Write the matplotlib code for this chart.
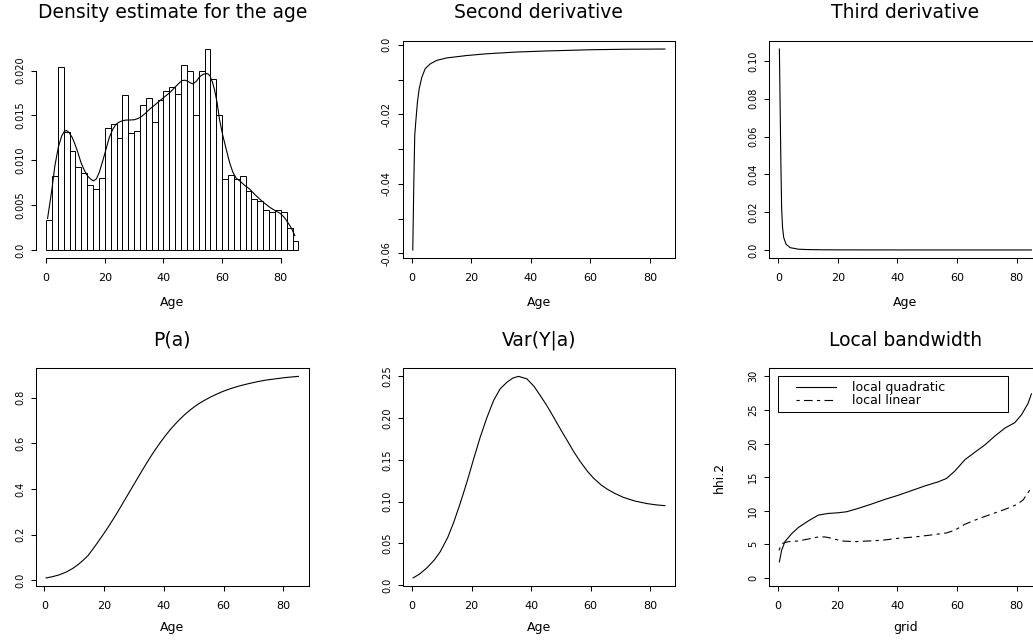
import numpy as np
import matplotlib
matplotlib.use("Agg")
import matplotlib.pyplot as plt
from matplotlib.lines import Line2D
from matplotlib.legend_handler import HandlerLine2D

# ---------------- data ----------------
# Histogram of age (density scale), bins of width 2 from 0 to 86
hist_left = list(range(0, 86, 2))
hist_density = [0.00333, 0.00826, 0.0204, 0.0131, 0.0110, 0.0092, 0.00856, 0.00722, 0.00681, 0.00807,
                0.0136, 0.0140, 0.01248, 0.01726, 0.01307, 0.01326, 0.01615, 0.01693, 0.01426, 0.01674,
                0.0177, 0.0182, 0.0174, 0.0206, 0.0200, 0.01504, 0.01996, 0.0224, 0.0191, 0.0151,
                0.00795, 0.0084, 0.0079, 0.0082, 0.0066, 0.00567, 0.0055, 0.0044, 0.0042, 0.00448,
                0.0042, 0.0025, 0.0010]
hist_width = 2

# Kernel density estimate
dens_age = [0.5, 2.0, 3.0, 4.2, 5.3, 6.2, 6.9, 7.8, 8.8, 9.6, 10.8, 11.9, 13.0, 14.1, 15.2, 16.1, 17.1,
            18.1, 19.2, 20.4, 21.5, 22.7, 23.8, 24.9, 26.0, 27.2, 28.7, 30.1, 31.3, 32.4, 33.8, 35.2,
            36.9, 38.6, 40.3, 42.1, 43.2, 44.3, 45.4, 46.4, 47.4, 48.3, 49.2, 50.0, 51.2, 52.3, 53.5,
            54.6, 55.3, 55.9, 56.7, 57.4, 58.3, 59.1, 60.2, 61.4, 62.5, 63.7, 64.8, 66.0, 67.7, 69.4,
            71.1, 72.8, 74.5, 76.3, 78.0, 79.7, 81.0, 82.0, 83.5, 84.8]
dens_val = [0.0035, 0.0068, 0.0094, 0.0115, 0.0127, 0.0132, 0.01333, 0.0131, 0.0126, 0.0120, 0.0109,
            0.00974, 0.0089, 0.00826, 0.0079, 0.0077, 0.0079, 0.00863, 0.0098, 0.0112, 0.0125, 0.01344,
            0.0140, 0.01426, 0.0144, 0.01448, 0.01449, 0.01452, 0.01465, 0.01485, 0.01522, 0.01567,
            0.01612, 0.01659, 0.01705, 0.01752, 0.01790, 0.01826, 0.01862, 0.01889, 0.01892, 0.01881,
            0.01862, 0.01852, 0.01880, 0.0193, 0.01958, 0.01967, 0.01960, 0.01937, 0.01870, 0.01789,
            0.0164, 0.01456, 0.0128, 0.01122, 0.0098, 0.00863, 0.0080, 0.0077, 0.0072, 0.00678,
            0.0062, 0.00567, 0.0052, 0.00474, 0.0044, 0.0041, 0.0037, 0.00326, 0.0025, 0.00159]

# Second derivative
d2_age = [0.34, 0.67, 1.0, 1.34, 1.9, 2.5, 3.4, 4.5, 6.2, 8.4, 11.7, 18.5, 25.2, 35.2, 45, 60, 72, 85]
d2_val = [-0.059, -0.0404, -0.026, -0.0222, -0.0165, -0.0126, -0.0093, -0.0069, -0.0055, -0.0045,
          -0.0038, -0.0031, -0.0026, -0.0021, -0.0018, -0.00144, -0.0013, -0.00124]

# Third derivative
d3_age = [0.34, 0.6, 0.85, 1.1, 1.4, 1.8, 2.6, 4.0, 6.8, 10, 15, 20, 30, 40, 50, 60, 70, 85]
d3_val = [0.1063, 0.075, 0.045, 0.022, 0.012, 0.0065, 0.003, 0.0012, 0.0004, 0.0002, 0.0001, 0.00005,
          0.00003, 0.00002, 0.00001, 0.00001, 0.0, 0.0]

# P(a)
p_age = [0.56, 2.8, 5.0, 7.3, 9.5, 11.2, 12.9, 14.6, 16.2, 17.9, 19.6, 21.3, 22.9, 24.6, 26.3, 27.7,
         29.1, 30.5, 31.9, 33.6, 35.2, 36.9, 38.6, 40.3, 42.0, 43.7, 45.3, 47.0, 48.7, 50.4, 52.0,
         53.7, 55.4, 57.6, 59.9, 62.7, 65.5, 68.3, 71.0, 73.8, 76.6, 80.8, 85.0]
p_val = [0.0102, 0.016, 0.024, 0.036, 0.052, 0.068, 0.087, 0.108, 0.136, 0.167, 0.199, 0.232, 0.265,
         0.301, 0.339, 0.370, 0.401, 0.432, 0.463, 0.500, 0.534, 0.568, 0.600, 0.630, 0.658, 0.683,
         0.705, 0.726, 0.745, 0.762, 0.776, 0.789, 0.801, 0.815, 0.828, 0.841, 0.852, 0.861, 0.869,
         0.876, 0.881, 0.888, 0.893]

# Var(Y|a)
v_age = [0.34, 2.5, 5.0, 7.5, 9.5, 12.0, 14.0, 16.2, 18.5, 20.7, 22.9, 25.1, 27.4, 29.6, 31.9, 33.9,
         35.8, 38.6, 41.0, 43.1, 45.3, 47.6, 50.0, 52.0, 54.3, 56.5, 59.0, 61.0, 63.5, 65.5, 68.0,
         71.0, 75.0, 79.0, 82.0, 85.0]
v_val = [0.0084, 0.013, 0.0205, 0.030, 0.040, 0.057, 0.075, 0.098, 0.124, 0.151, 0.177, 0.200,
         0.221, 0.235, 0.243, 0.248, 0.250, 0.247, 0.238, 0.227, 0.215, 0.201, 0.186, 0.174, 0.160,
         0.148, 0.136, 0.128, 0.120, 0.115, 0.110, 0.105, 0.1005, 0.0975, 0.096, 0.095]

# Local bandwidth
bw_grid_q = [0.45, 1.2, 2.3, 4.6, 6.8, 10.2, 13.5, 16.9, 20.2, 23.0, 26.9, 31.4, 35.9, 40.3, 44.8, 49.3,
             53.7, 56.5, 59.3, 62.7, 66.0, 69.4, 72.7, 76.1, 79.4, 81.7, 83.9, 85.0]
bw_quad = [2.4, 4.1, 5.4, 6.6, 7.5, 8.5, 9.35, 9.6, 9.7, 9.85, 10.35, 11.0, 11.7, 12.3, 13.0, 13.7,
           14.3, 14.8, 15.9, 17.6, 18.7, 19.8, 21.1, 22.3, 23.1, 24.3, 26.0, 27.4]
bw_grid_l = [0.3, 1.2, 1.8, 3.5, 6.8, 10.2, 13.5, 15.8, 18.0, 21.3, 25.8, 30.3, 34.8, 40.3, 45.9, 51.5,
             56.5, 59.3, 62.7, 67.2, 71.6, 76.1, 80.0, 82.2, 84.5]
bw_lin = [4.1, 5.0, 5.2, 5.4, 5.5, 5.8, 6.1, 6.1, 5.9, 5.5, 5.4, 5.5, 5.6, 5.9, 6.1, 6.4, 6.7, 7.1,
          8.0, 8.8, 9.5, 10.2, 10.9, 11.6, 13.1]

titles = ["Density estimate for the age", "Second derivative", "Third derivative",
          "P(a)", "Var(Y|a)", "Local bandwidth"]
legend_labels = ["local quadratic", "local linear"]

# ---------------- figure ----------------
plt.rcParams["font.family"] = ["DejaVu Sans"]
W, H = 1033, 641
fig = plt.figure(figsize=(W / 100, H / 100), dpi=100)
LW = 0.8


def add_ax(left, top, right, bottom):
    return fig.add_axes([left / W, 1 - bottom / H, (right - left) / W, (bottom - top) / H])


def rlim(lo, hi):
    r = hi - lo
    return lo - 0.04 * r, hi + 0.04 * r


def style(ax, xt, yt, ylab, title, xlabel, xlab_off, box=True):
    ax.set_xticks(xt)
    ax.set_xticklabels([str(v) for v in xt])
    ax.set_yticks(yt)
    ax.set_yticklabels(ylab, rotation=90, va="center")
    ax.tick_params(axis="both", direction="out", length=3.6, width=0.75, color="black")
    ax.tick_params(axis="x", pad=7.2, labelsize=8)
    ax.tick_params(axis="y", pad=4.3, labelsize=7)
    for s in ax.spines.values():
        s.set_linewidth(0.75)
    if not box:
        ax.spines["top"].set_visible(False)
        ax.spines["right"].set_visible(False)
    ax.set_title(title, fontsize=13.5, pad=16.3)
    ax.set_xlabel(xlabel, fontsize=9)
    ax.xaxis.set_label_coords(0.5, -xlab_off)


# 1. Histogram + density
ax1 = add_ax(36, 41, 308.5, 258)
ax1.bar(hist_left, hist_density, width=hist_width, align="edge", facecolor="white",
        edgecolor="black", linewidth=0.7)
ax1.plot(dens_age, dens_val, color="black", lw=LW)
ax1.set_xlim(*rlim(0, 86))
ax1.set_ylim(*rlim(0, max(hist_density)))
style(ax1, [0, 20, 40, 60, 80], [0, 0.005, 0.010, 0.015, 0.020],
      ["0.0", "0.005", "0.010", "0.015", "0.020"], titles[0], "Age", 0.173, box=False)
ax1.spines["left"].set_bounds(0, 0.020)
ax1.spines["bottom"].set_bounds(0, 80)

# 2. Second derivative
ax2 = add_ax(402.7, 41, 675, 258)
ax2.plot(d2_age, d2_val, color="black", lw=LW)
ax2.set_xlim(*rlim(min(d2_age), max(d2_age)))
ax2.set_ylim(*rlim(min(d2_val), max(d2_val)))
style(ax2, [0, 20, 40, 60, 80], [0.0, -0.01, -0.02, -0.03, -0.04, -0.05, -0.06],
      ["0.0", "", "-0.02", "", "-0.04", "", "-0.06"], titles[1], "Age", 0.173)

# 3. Third derivative
ax3 = add_ax(769.3, 41, 1041.5, 258)
ax3.plot(d3_age, d3_val, color="black", lw=LW)
ax3.set_xlim(*rlim(min(d3_age), max(d3_age)))
ax3.set_ylim(*rlim(min(d3_val), max(d3_val)))
style(ax3, [0, 20, 40, 60, 80], [0.0, 0.02, 0.04, 0.06, 0.08, 0.10],
      ["0.0", "0.02", "0.04", "0.06", "0.08", "0.10"], titles[2], "Age", 0.173)

# 4. P(a)
ax4 = add_ax(36, 368.3, 308.5, 586)
ax4.plot(p_age, p_val, color="black", lw=LW)
ax4.set_xlim(*rlim(min(p_age), max(p_age)))
ax4.set_ylim(*rlim(min(p_val), max(p_val)))
style(ax4, [0, 20, 40, 60, 80], [0.0, 0.2, 0.4, 0.6, 0.8],
      ["0.0", "0.2", "0.4", "0.6", "0.8"], titles[3], "Age", 0.163)

# 5. Var(Y|a)
ax5 = add_ax(403, 368.3, 675, 586)
ax5.plot(v_age, v_val, color="black", lw=LW)
ax5.set_xlim(*rlim(min(v_age), max(v_age)))
ax5.set_ylim(*rlim(min(v_val), max(v_val)))
style(ax5, [0, 20, 40, 60, 80], [0.0, 0.05, 0.10, 0.15, 0.20, 0.25],
      ["0.0", "0.05", "0.10", "0.15", "0.20", "0.25"], titles[4], "Age", 0.163)

# 6. Local bandwidth
ax6 = add_ax(769.3, 368.3, 1041.5, 586)
dashdot = (0, (2.9, 3.9, 7.7, 3.9))
ax6.plot(bw_grid_q, bw_quad, color="black", lw=LW)
ax6.plot(bw_grid_l, bw_lin, color="black", lw=LW, linestyle=dashdot)
ax6.set_xlim(*rlim(min(bw_grid_q), max(bw_grid_q)))
ax6.set_ylim(*rlim(0, 30))
style(ax6, [0, 20, 40, 60, 80], [0, 5, 10, 15, 20, 25, 30],
      ["0", "5", "10", "15", "20", "25", "30"], titles[5], "grid", 0.163)
ax6.set_ylabel("hhi.2", fontsize=9)
ax6.yaxis.set_label_coords(-0.161, 0.5)
h1 = Line2D([], [], color="black", lw=LW)
h2 = Line2D([], [], color="black", lw=LW, linestyle=dashdot)
leg = ax6.legend([h1, h2], legend_labels, loc="upper left",
                 bbox_to_anchor=(0, 24.0, 77, 6.0), bbox_transform=ax6.transData,
                 mode="expand", borderaxespad=0, fancybox=False, edgecolor="black",
                 framealpha=1, fontsize=9, handlelength=4.2, handletextpad=1.35,
                 borderpad=0.4, labelspacing=0.0,
                 handler_map={Line2D: HandlerLine2D(xpad=1.05)})
leg.get_frame().set_linewidth(0.75)

fig.savefig("out.png", dpi=100)
